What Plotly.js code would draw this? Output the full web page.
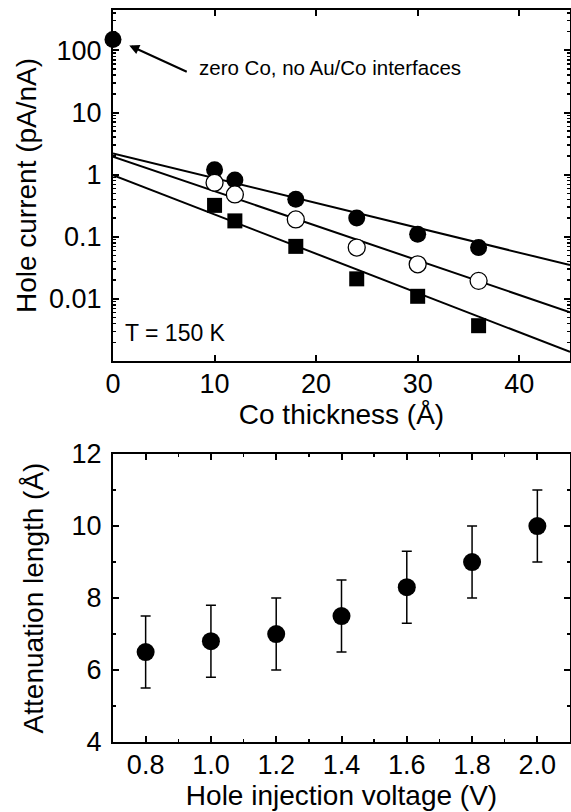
<!DOCTYPE html>
<html>
<head>
<meta charset="utf-8">
<script src="https://cdn.plot.ly/plotly-3.0.1.min.js"></script>
<style>html,body{margin:0;padding:0;background:#fff;}#chart{width:571px;height:812px;}</style>
</head>
<body>
<div id="chart"></div>
<script>
// ---- Top panel data: hole current vs Co thickness (T = 150 K) ----
const coThickness = [10, 12, 18, 24, 30, 36];
const currentFilledCircle = [1.2, 0.82, 0.40, 0.20, 0.11, 0.067];
const currentOpenCircle = [0.74, 0.48, 0.19, 0.067, 0.036, 0.0195];
const currentSquare = [0.32, 0.18, 0.07, 0.021, 0.011, 0.0037];
const zeroCoX = [0];
const zeroCoY = [150];
// exponential fit lines (end points at 0 and 45 Å)
const fitX = [0, 45];
const fitFilledCircle = [2.2, 0.035];
const fitOpenCircle = [1.95, 0.0061];
const fitSquare = [0.98, 0.0014];
const topYTickVals = [0.01, 0.1, 1, 10, 100];
const topYTickText = ['0.01', '0.1', '1', '10', '100'];
const topXTickVals = [0, 10, 20, 30, 40];

// ---- Bottom panel data: attenuation length vs hole injection voltage ----
const voltage = [0.8, 1.0, 1.2, 1.4, 1.6, 1.8, 2.0];
const attenuation = [6.5, 6.8, 7.0, 7.5, 8.3, 9.0, 10.0];
const attenuationErr = [1, 1, 1, 1, 1, 1, 1];
const bottomXTickVals = [0.8, 1.0, 1.2, 1.4, 1.6, 1.8, 2.0];
const bottomXTickText = ['0.8', '1.0', '1.2', '1.4', '1.6', '1.8', '2.0'];
const bottomYTickVals = [4, 6, 8, 10, 12];

const FONT = 'Liberation Sans, Arial, Helvetica, sans-serif';
const BLK = '#000';

const traces = [
  {x: fitX, y: fitFilledCircle, mode: 'lines', line: {color: BLK, width: 2}, xaxis: 'x', yaxis: 'y', hoverinfo: 'skip'},
  {x: fitX, y: fitOpenCircle, mode: 'lines', line: {color: BLK, width: 2}, xaxis: 'x', yaxis: 'y', hoverinfo: 'skip'},
  {x: fitX, y: fitSquare, mode: 'lines', line: {color: BLK, width: 2}, xaxis: 'x', yaxis: 'y', hoverinfo: 'skip'},
  {x: coThickness, y: currentFilledCircle, mode: 'markers', xaxis: 'x', yaxis: 'y',
   marker: {symbol: 'circle', size: 17, color: BLK}},
  {x: coThickness, y: currentOpenCircle, mode: 'markers', xaxis: 'x', yaxis: 'y',
   marker: {symbol: 'circle', size: 17, color: '#fff', line: {color: BLK, width: 1.3}}},
  {x: coThickness, y: currentSquare, mode: 'markers', xaxis: 'x', yaxis: 'y',
   marker: {symbol: 'square', size: 15, color: BLK}},
  {x: zeroCoX, y: zeroCoY, mode: 'markers', xaxis: 'x', yaxis: 'y', cliponaxis: false,
   marker: {symbol: 'circle', size: 17, color: BLK}},
  {x: voltage, y: attenuation, mode: 'markers', xaxis: 'x2', yaxis: 'y2',
   marker: {symbol: 'circle', size: 18, color: BLK},
   error_y: {type: 'data', array: attenuationErr, visible: true, color: BLK, thickness: 1.5, width: 5}}
];

const axisCommon = {
  showline: true, linecolor: BLK, linewidth: 2, mirror: 'allticks',
  ticks: 'inside', tickcolor: BLK, tickwidth: 2, ticklen: 6,
  showgrid: false, zeroline: false,
  tickfont: {family: FONT, size: 27, color: BLK}
};
const TITLEFONT = {family: FONT, size: 28, color: BLK};

const layout = {
  width: 571, height: 812,
  margin: {l: 113, r: 1, t: 10, b: 70},
  paper_bgcolor: '#fff', plot_bgcolor: '#fff',
  showlegend: false,
  font: {family: FONT, color: BLK},
  xaxis: Object.assign({}, axisCommon, {
    domain: [0, 1], anchor: 'y', range: [0, 45],
    tickmode: 'array', tickvals: topXTickVals,
    ticklabelstandoff: -2,
    title: {text: 'Co thickness (Å)', font: TITLEFONT, standoff: 0}
  }),
  yaxis: Object.assign({}, axisCommon, {
    domain: [0.5205, 1], anchor: 'x', type: 'log', range: [-3, 2.65],
    tickmode: 'array', tickvals: topYTickVals, ticktext: topYTickText,
    ticklabelstandoff: 4,
    minor: {ticks: 'inside', ticklen: 3, tickwidth: 1.5, tickcolor: BLK, dtick: 'D1', showgrid: false},
    title: {text: 'Hole current (pA/nA)', font: TITLEFONT, standoff: 4}
  }),
  xaxis2: Object.assign({}, axisCommon, {
    domain: [0, 1], anchor: 'y2', range: [0.7, 2.1],
    tickmode: 'array', tickvals: bottomXTickVals, ticktext: bottomXTickText,
    ticklabelstandoff: -2,
    minor: {ticks: 'inside', ticklen: 3, tickwidth: 1.5, tickcolor: BLK, dtick: 0.1, showgrid: false},
    title: {text: 'Hole injection voltage (V)', font: TITLEFONT, standoff: 0}
  }),
  yaxis2: Object.assign({}, axisCommon, {
    domain: [0, 0.3934], anchor: 'x2', range: [4, 12],
    tickmode: 'array', tickvals: bottomYTickVals,
    ticklabelstandoff: 4,
    minor: {ticks: 'inside', ticklen: 3, tickwidth: 1.5, tickcolor: BLK, dtick: 1, showgrid: false},
    title: {text: 'Attenuation length (Å)', font: TITLEFONT, standoff: 20}
  }),
  annotations: [
    {xref: 'x', yref: 'y', x: 8.3, y: 1.73, xanchor: 'left', yanchor: 'middle', showarrow: false,
     text: 'zero Co, no Au/Co interfaces', font: {family: FONT, size: 20.5, color: BLK}},
    {xref: 'x', yref: 'y', x: 1.6, y: 2.08, showarrow: true, text: '', ax: 59, ay: 27,
     arrowhead: 2, arrowsize: 1, arrowwidth: 2, arrowcolor: BLK},
    {xref: 'x', yref: 'y', x: 1.0, y: -2.55, xanchor: 'left', yanchor: 'middle', showarrow: false,
     text: 'T = 150 K', font: {family: FONT, size: 23, color: BLK}}
  ]
};

Plotly.newPlot('chart', traces, layout, {displayModeBar: false, staticPlot: true});
</script>
</body>
</html>
